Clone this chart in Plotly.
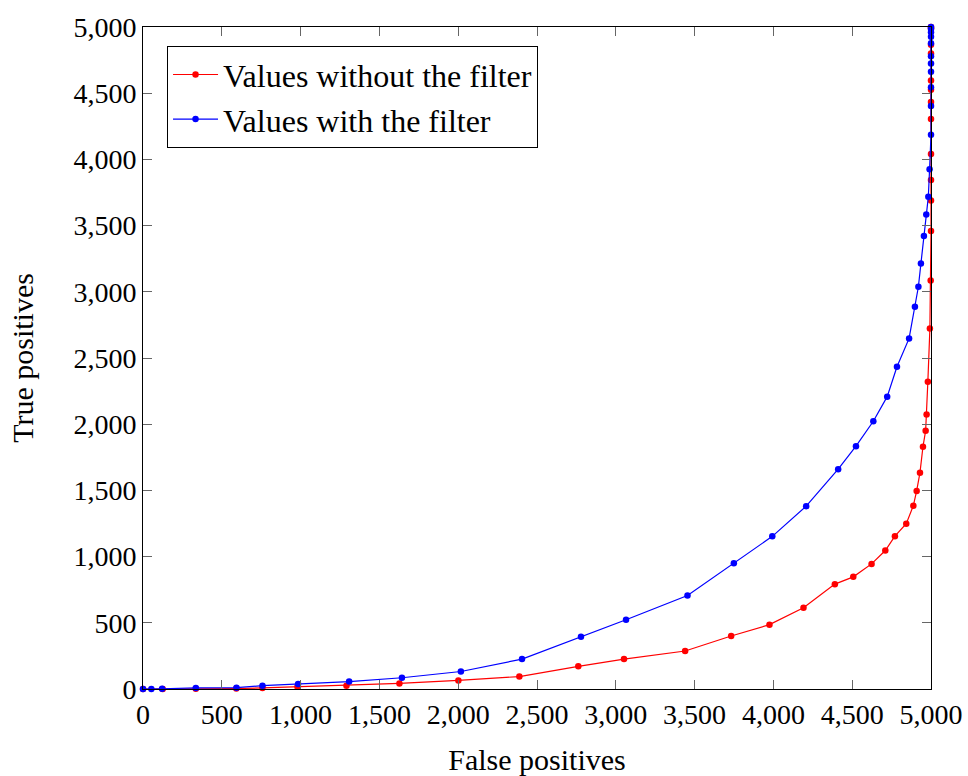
import plotly.graph_objects as go

# Values without the filter (red)
fp_without = [0, 125, 335, 592, 758, 980, 1291, 1627, 2001, 2388, 2762, 3052, 3440,
              3732, 3975, 4191, 4390, 4507, 4623, 4710, 4771, 4843, 4888, 4909, 4930,
              4949, 4966, 4972, 4980, 4993, 4998, 5000, 5000, 5000, 5000, 5000, 5000,
              5000, 5000, 5000, 5000, 5000, 5000]
tp_without = [0, 0, 2, 3, 8, 17, 25, 42, 65, 94, 171, 226, 287,
              400, 486, 613, 792, 847, 945, 1046, 1154, 1248, 1385, 1496, 1634,
              1830, 1951, 2074, 2320, 2722, 3085, 3460, 3690, 3845, 4040, 4305, 4434,
              4526, 4596, 4800, 4865, 4990, 5000]

# Values with the filter (blue)
fp_with = [0, 53, 121, 335, 593, 758, 984, 1308, 1643, 2017, 2405, 2779, 3065, 3455,
           3749, 3993, 4208, 4411, 4524, 4634, 4722, 4784, 4861, 4898, 4920, 4936,
           4955, 4970, 4983, 4991, 5000, 5000, 5000, 5000, 5000, 5000, 5000, 5000,
           5000, 5000, 5000]
tp_with = [0, 0, 2, 8, 10, 25, 38, 56, 85, 132, 226, 395, 523, 706,
           950, 1153, 1381, 1660, 1834, 2022, 2208, 2434, 2648, 2888, 3038, 3213,
           3421, 3584, 3717, 3926, 4186, 4404, 4545, 4662, 4725, 4780, 4877, 4927,
           4960, 4985, 5000]

tick_vals = list(range(0, 5001, 500))
tick_text = [f"{v:,}" for v in tick_vals]

FONT = "Liberation Serif, Times New Roman, Times, DejaVu Serif, serif"

fig = go.Figure()
fig.add_trace(go.Scatter(
    x=fp_without, y=tp_without, mode="lines+markers",
    name="Values without the filter",
    line=dict(color="rgb(255,0,0)", width=1.2),
    marker=dict(color="rgb(255,0,0)", size=6.5),
    cliponaxis=False,
))
fig.add_trace(go.Scatter(
    x=fp_with, y=tp_with, mode="lines+markers",
    name="Values with the filter",
    line=dict(color="rgb(0,0,255)", width=1.2),
    marker=dict(color="rgb(0,0,255)", size=6.5),
    cliponaxis=False,
))

axis_common = dict(
    range=[0, 5000],
    tickvals=tick_vals,
    ticktext=tick_text,
    showgrid=False,
    zeroline=False,
    showline=True,
    linecolor="black",
    linewidth=1,
    mirror="ticks",
    ticks="inside",
    ticklen=9,
    tickwidth=1,
    tickcolor="#666666",
    automargin=False,
    tickfont=dict(family=FONT, size=28, color="black"),
)

fig.update_layout(
    width=968, height=776,
    margin=dict(l=143, r=37, t=27, b=87, pad=0),
    paper_bgcolor="white",
    plot_bgcolor="white",
    font=dict(family=FONT, color="black"),
    showlegend=True,
    legend=dict(
        x=0.0305, y=0.971, xanchor="left", yanchor="top",
        bgcolor="white", bordercolor="black", borderwidth=1,
        font=dict(family=FONT, size=32, color="black"),
        itemwidth=45,
        tracegroupgap=0,
    ),
    xaxis=dict(axis_common, title=dict(text="False positives",
                                       font=dict(family=FONT, size=30), standoff=22)),
    yaxis=dict(axis_common, title=dict(text="True positives",
                                       font=dict(family=FONT, size=30), standoff=30)),
)

fig.write_html("out.html")
